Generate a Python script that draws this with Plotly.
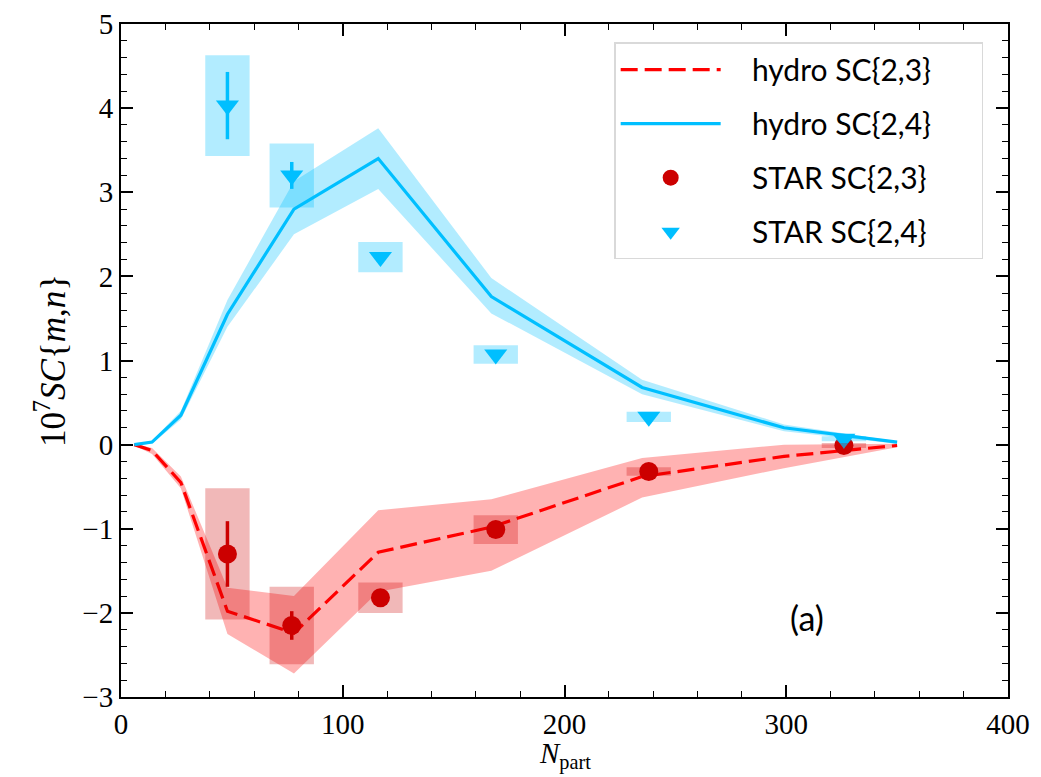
import plotly.graph_objects as go

# ---------------- data ----------------
N_hydro = [6, 14, 27, 48, 78, 116, 167, 235, 299, 350]
hydro_sc23 = [0.0, -0.07, -0.45, -1.98, -2.24, -1.28, -0.98, -0.38, -0.14, -0.01]
hydro_sc23_lo = [-0.01, -0.11, -0.52, -2.25, -2.72, -1.75, -1.50, -0.63, -0.28, -0.03]
hydro_sc23_hi = [0.01, -0.04, -0.38, -1.70, -1.80, -0.78, -0.65, -0.16, 0.00, 0.01]
hydro_sc24 = [0.0, 0.03, 0.35, 1.55, 2.80, 3.40, 1.76, 0.68, 0.20, 0.03]
hydro_sc24_lo = [0.0, 0.01, 0.30, 1.40, 2.50, 3.04, 1.56, 0.60, 0.16, 0.01]
hydro_sc24_hi = [0.0, 0.05, 0.40, 1.72, 3.13, 3.76, 1.98, 0.77, 0.24, 0.04]

N_star = [48, 77, 117, 169, 238, 326]
star_sc23 = [-1.30, -2.15, -1.82, -1.01, -0.32, -0.01]
star_sc23_stat = [0.39, 0.17, 0.04, 0.03, 0.02, 0.01]
star_sc23_sys = [0.78, 0.46, 0.18, 0.17, 0.05, 0.03]
star_sc24 = [4.03, 3.20, 2.23, 1.07, 0.33, 0.07]
star_sc24_stat = [0.40, 0.16, 0.05, 0.04, 0.03, 0.03]
star_sc24_sys = [0.60, 0.38, 0.18, 0.11, 0.06, 0.03]
box_halfwidth = 10

legend_names = ["hydro SC{2,3}", "hydro SC{2,4}", "STAR SC{2,3}", "STAR SC{2,4}"]
PAD_L = "\u2003\u2009"
PAD_R = "\u2003\u2003"

RED = "#ff0000"
RED_BAND = "rgba(255,0,0,0.3)"
DARKRED = "#cc0000"
DARKRED_BOX = "rgba(204,0,0,0.28)"
BLUE = "#00bfff"
BLUE_BAND = "rgba(0,191,255,0.3)"
BLUE_BOX = "rgba(0,191,255,0.3)"

fig = go.Figure()

# bands
fig.add_trace(go.Scatter(x=N_hydro + N_hydro[::-1], y=hydro_sc23_hi + hydro_sc23_lo[::-1],
                         fill="toself", fillcolor=RED_BAND, line=dict(width=0),
                         mode="lines", showlegend=False, hoverinfo="skip"))
fig.add_trace(go.Scatter(x=N_hydro + N_hydro[::-1], y=hydro_sc24_hi + hydro_sc24_lo[::-1],
                         fill="toself", fillcolor=BLUE_BAND, line=dict(width=0),
                         mode="lines", showlegend=False, hoverinfo="skip"))

# systematic boxes
for xs, ys, sys, col in [(N_star, star_sc23, star_sc23_sys, DARKRED_BOX),
                         (N_star, star_sc24, star_sc24_sys, BLUE_BOX)]:
    for xv, yv, sv in zip(xs, ys, sys):
        fig.add_shape(type="rect", xref="x", yref="y",
                      x0=xv - box_halfwidth, x1=xv + box_halfwidth,
                      y0=yv - sv, y1=yv + sv,
                      fillcolor=col, line=dict(width=0), layer="above")

# hydro lines
fig.add_trace(go.Scatter(x=N_hydro, y=hydro_sc23, mode="lines", name=PAD_L + legend_names[0] + PAD_R,
                         line=dict(color=RED, width=3.2, dash="17px,7px"), legendgroup="a"))
fig.add_trace(go.Scatter(x=N_hydro, y=hydro_sc24, mode="lines", name=PAD_L + legend_names[1] + PAD_R,
                         line=dict(color=BLUE, width=3.2), legendgroup="b"))

# STAR points
fig.add_trace(go.Scatter(x=N_star, y=star_sc23, mode="markers", name=PAD_L + legend_names[2] + PAD_R,
                         marker=dict(symbol="circle", size=19, color=DARKRED),
                         error_y=dict(type="data", array=star_sc23_stat, color=DARKRED,
                                      thickness=3.5, width=0), legendgroup="c"))
fig.add_trace(go.Scatter(x=N_star, y=star_sc24, mode="markers", name=PAD_L + legend_names[3] + PAD_R,
                         marker=dict(symbol="triangle-down", size=20, color=BLUE),
                         error_y=dict(type="data", array=star_sc24_stat, color=BLUE,
                                      thickness=3.5, width=0), legendgroup="d"))

fig.add_annotation(x=0.795, y=0.085, xref="paper", yref="paper", text="(a)",
                   showarrow=False, font=dict(family="Lato", size=34, color="black"))

# x-axis title as annotation below tick labels
fig.add_annotation(x=0.5, y=0, xref="paper", yref="paper", yanchor="top", yshift=-38,
                   text="<i>N</i><sub>part</sub>", showarrow=False,
                   font=dict(family="Liberation Serif", size=29, color="black"))

axis_common = dict(
    showline=True, linecolor="black", linewidth=2, mirror="ticks",
    ticks="inside", ticklen=12, tickwidth=2, tickcolor="black",
    showgrid=False, zeroline=False, automargin=False,
    tickfont=dict(family="Liberation Serif", size=29, color="black"),
)

fig.update_xaxes(range=[0, 400], dtick=100, tick0=0,
                 minor=dict(ticks="inside", ticklen=6, tickwidth=1.3, dtick=20, tickcolor="black", showgrid=False),
                 **axis_common)
fig.update_yaxes(range=[-3, 5], dtick=1, tick0=0,
                 minor=dict(ticks="inside", ticklen=6, tickwidth=1.3, dtick=0.2, tickcolor="black", showgrid=False),
                 title=dict(text="10<sup>7</sup><i>SC</i>{<i>m</i>,<i>n</i>}", font=dict(family="Liberation Serif", size=35, color="black"), standoff=6),
                 **axis_common)

fig.update_layout(
    width=1041, height=777,
    margin=dict(l=121, r=33, t=24, b=80),
    plot_bgcolor="white", paper_bgcolor="white",
    legend=dict(x=0.556, y=0.973, xanchor="left", yanchor="top",
                bgcolor="white", bordercolor="#d9d9d9", borderwidth=1.5,
                font=dict(family="Lato", size=30, color="black"),
                traceorder="grouped", tracegroupgap=12, itemwidth=100),
)

fig.write_html("out.html")
